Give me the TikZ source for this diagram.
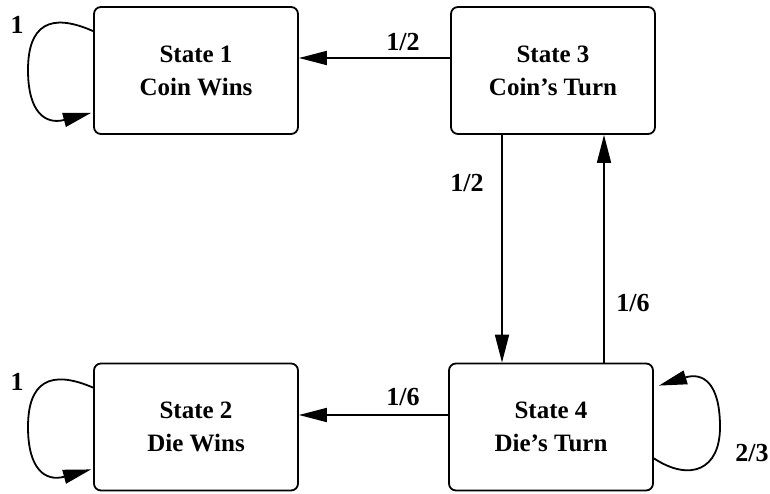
\documentclass[tikz,border=0pt]{standalone}
\usepackage{fontspec}
\setmainfont{Liberation Serif}
\usetikzlibrary{arrows.meta,calc}
\begin{document}
\begin{tikzpicture}[x=1pt,y=-1pt,
  statebox/.style={draw, line width=1.8pt, rounded corners=7pt, minimum width=204pt, minimum height=127pt, align=center, font=\fontsize{25}{33}\selectfont\bfseries},
  arr/.style={line width=1.8pt, -{Triangle[length=28pt,width=14pt]}},
  lbl/.style={font=\fontsize{26}{30}\selectfont\bfseries, inner sep=0pt}]
\useasboundingbox (0,0) rectangle (770,494);
\node[statebox] (s1) at (196,70.5) {State 1\\Coin Wins};
\node[statebox] (s3) at (553,70.5) {State 3\\Coin’s Turn};
\node[statebox] (s2) at (196,427) {State 2\\Die Wins};
\node[statebox] (s4) at (551,427) {State 4\\Die’s Turn};
\coordinate (ytop) at (0,58);
\coordinate (ybot) at (0,415);
\coordinate (xdown) at (502,0);
\coordinate (xup) at (604,0);
\draw[arr] (s3.west |- ytop) -- (s1.east |- ytop);
\draw[arr] (s4.west |- ybot) -- (s2.east |- ybot);
\draw[arr] (s3.south -| xdown) -- (s4.north -| xdown);
\draw[arr] (s4.north -| xup) -- (s3.south -| xup);
% self loops
\draw[arr] ($(s1.north west)+(0,25)$) .. controls (50,12) and (28,25) .. (28,70)
  .. controls (28,112) and (45,125) .. ($(s1.south west)+(-2,-22)$);
\draw[arr] ($(s2.north west)+(0,25)$) .. controls (50,369) and (28,382) .. (28,427)
  .. controls (28,469) and (45,482) .. ($(s2.south west)+(-2,-22)$);
\draw[arr] ($(s4.south east)+(0,-33)$) .. controls (690,482) and (720,470) .. (720,427)
  .. controls (720,383) and (703,372) .. ($(s4.north east)+(5,23)$);
% labels
\node[lbl] (l31) at (403,42) {1/2};
\node[lbl] (l34) at (467,183) {1/2};
\node[lbl] (l43) at (633,303) {1/6};
\node[lbl] (l42) at (403,397) {1/6};
\node[lbl] (l11) at (17,25) {1};
\node[lbl] (l22) at (17,382) {1};
\node[lbl] (l44) at (752,453) {2/3};
\end{tikzpicture}
\end{document}
